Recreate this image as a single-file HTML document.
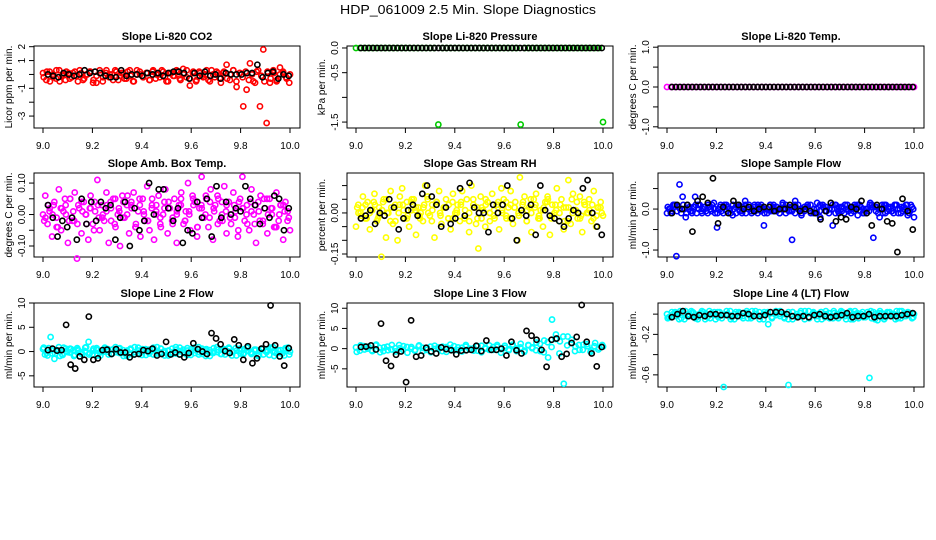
<!DOCTYPE html>
<html><head><meta charset="utf-8"><style>
html,body{margin:0;padding:0;background:#fff;}
svg{display:block;font-family:"Liberation Sans",sans-serif;}
</style></head><body>
<svg id="chart" width="936" height="540" viewBox="0 0 936 540" xmlns="http://www.w3.org/2000/svg">
<text x="468" y="14" text-anchor="middle" font-size="13" textLength="256" lengthAdjust="spacingAndGlyphs">HDP_061009  2.5 Min. Slope Diagnostics</text>
</svg>
<script>
function seq(a,b,n){const r=[];for(let i=0;i<n;i++)r.push(a+(b-a)*i/(n-1));return r;}
// ---- data ----
const co2Red=[0.1,-0.4,0.2,-0.2,0.3,-0.5,0.0,0.2,-0.3,0.1,-0.1,0.3,-0.4,0.0,0.2,-0.6,-0.6,0.1,-0.2,0.3,0.0,-0.4,0.2,-0.1,0.1,-0.3,0.3,-0.5,0.0,0.2,-0.2,0.1,-0.4,0.3,0.0,-0.2,0.2,-0.5,0.1,-0.1,0.3,-0.3,0.4,-0.2,-0.8,0.2,-0.4,0.1,-0.2,0.3,-0.5,0.0,0.2,-0.3,0.1,0.7,-0.4,0.3,-0.9,0.1,-2.3,-1.1,0.8,-0.5,0.2,-2.3,1.8,-3.5,-0.6,0.3,-0.5,0.5,0.1,-0.3,0.0];
const co2RedBand=[-0.2,0.2,-0.5,0.0,-0.3,0.3,-0.1,-0.4,0.1,-0.2,0.2,-0.5,0.1,-0.3,0.0,0.2,-0.4,-0.1,0.3,-0.5,0.1,-0.2,0.0,0.3,-0.4,0.1,-0.3,0.2,-0.1,-0.5,0.3,0.0,-0.2,0.1,-0.4,0.2,-0.3,0.0,0.3,-0.2,-0.5,0.1,-0.1,0.2,-0.4,0.0,0.3,-0.3,0.1,-0.5,0.2,-0.1,0.0,-0.4,0.3,-0.2,0.1,-0.6,0.2,-0.3,0.0,0.3,-0.5,0.1,-0.2,0.2,-0.4,0.0,-0.6,0.3,-0.1,-0.5,0.2,-0.3,0.1,-0.4,0.0,0.2,-0.2,-0.6];
const co2Blk=[0.0,-0.1,-0.2,0.1,0.0,-0.1,0.0,0.3,0.1,0.2,0.1,-0.1,-0.2,-0.2,0.3,-0.1,0.0,0.0,-0.1,0.1,0.0,0.1,-0.1,0.1,0.2,0.2,0.1,-0.3,0.1,-0.1,0.2,-0.1,0.0,-0.3,0.1,0.0,0.0,0.0,0.1,0.1,0.7,-0.2,0.1,0.2,-0.3,0.0,-0.1];
const presGreen=[0,0,0,0,0,0,0,0,0,0,0,0,0,0,0,0,0,0,0,0,-1.55,0,0,0,0,0,0,0,0,0,0,0,0,0,0,0,0,0,0,0,-1.55,0,0,0,0,0,0,0,0,0,0,0,0,0,0,0,0,0,0,0,-1.5];
const presBlk=[0,0,0,0,0,0,0,0,0,0,0,0,0,0,0,0,0,0,0,0,0,0,0,0,0,0,0,0,0,0,0,0,0,0,0,0,0,0,0,0,0,0,0,0,0,0,0,0,0,0,0,0,0,0,0,0,0,0,0,0];
const tempMag=[0,0,0,0,0,0,0,0,0,0,0,0,0,0,0,0,0,0,0,0,0,0,0,0,0,0,0,0,0,0,0,0,0,0,0,0,0,0,0,0,0,0,0,0,0,0,0,0,0,0,0,0,0,0,0,0,0,0,0,0,0];
const tempBlk=[0,0,0,0,0,0,0,0,0,0,0,0,0,0,0,0,0,0,0,0,0,0,0,0,0,0,0,0,0,0,0,0,0,0,0,0,0,0,0,0,0,0,0,0,0,0,0,0,0,0,0,0,0,0,0,0,0,0,0,0];
const ambPink=[0.0,0.06,-0.03,0.02,-0.07,0.04,-0.01,0.08,-0.05,0.01,0.03,-0.09,0.05,-0.02,0.07,-0.14,0.02,-0.06,0.04,0.0,-0.08,0.06,-0.03,0.01,0.11,-0.05,0.03,-0.02,0.07,-0.09,0.02,0.05,-0.04,0.0,-0.1,0.06,-0.01,0.03,-0.06,0.04,0.07,-0.03,0.01,-0.07,0.05,-0.02,0.09,-0.05,0.02,-0.08,0.03,0.06,-0.04,0.0,0.08,-0.06,0.02,-0.02,0.05,-0.09,0.03,0.07,-0.03,0.01,0.1,-0.05,0.06,0.04,-0.07,0.02,0.12,-0.01,0.05,-0.04,0.08,-0.08,0.03,0.06,-0.02,0.0,0.09,-0.06,0.04,-0.03,0.07,0.01,-0.07,0.05,0.12,-0.02,0.03,-0.05,0.08,0.0,-0.09,0.04,0.06,-0.03,0.02,-0.06,0.05,0.0,-0.04,0.07,-0.02,0.03,-0.08,0.04,0.01,-0.05];
const ambPink2=[-0.02,0.03,0.0,-0.04,0.02,0.05,-0.02,0.01,-0.03,0.04,0.0,0.02,-0.05,0.03,-0.01,0.01,0.04,-0.03,0.02,-0.01,0.0,0.03,-0.04,0.05,0.01,-0.02,0.03,0.0,-0.03,0.04,0.02,-0.01,0.01,0.05,-0.02,0.0,0.03,-0.04,0.02,0.06,0.04,0.01,0.05,-0.02,0.03,0.0,-0.01,0.04,0.02,-0.03,0.01,0.03,-0.02,0.05,0.0,0.02,-0.04,0.03,0.01,-0.01];
const ambBlk=[0.03,-0.01,-0.07,-0.02,-0.04,-0.01,-0.08,0.05,-0.03,0.04,-0.02,0.04,0.02,0.03,-0.08,-0.01,0.04,-0.1,0.02,-0.05,-0.02,0.1,0.0,0.08,0.08,0.02,-0.02,0.02,-0.09,-0.05,-0.06,0.04,-0.01,0.05,-0.07,0.09,-0.01,0.04,0.0,0.02,0.01,0.09,0.05,0.03,-0.03,0.02,-0.01,0.06,0.05,-0.05,0.02];
const rhYellow=[-0.05,0.03,0.0,0.06,-0.02,0.04,-0.06,0.01,0.07,-0.03,0.02,-0.16,0.05,-0.09,0.0,0.08,-0.04,0.03,-0.1,0.06,0.09,-0.02,0.04,-0.05,0.01,0.05,-0.08,0.02,0.0,-0.03,0.1,0.06,-0.01,0.03,-0.09,0.04,0.08,-0.04,0.02,0.05,-0.02,-0.06,0.07,0.0,0.03,-0.03,0.08,-0.02,0.05,-0.07,0.1,0.02,-0.04,-0.13,0.06,0.01,-0.05,0.04,0.0,0.07,-0.02,0.03,-0.06,0.09,0.05,-0.01,0.02,0.08,-0.04,0.04,-0.1,0.13,0.0,0.06,-0.03,0.02,-0.07,0.05,0.07,-0.02,0.01,-0.05,0.04,0.06,-0.08,0.03,0.0,0.09,-0.03,0.05,-0.06,0.02,0.12,-0.04,0.07,0.01,-0.02,0.06,-0.07,0.03,0.0,0.05,-0.03,0.08,-0.05,0.02,0.04,-0.01];
const rhYellow2=[0.02,-0.01,0.03,0.0,0.04,-0.02,0.01,0.05,-0.03,0.02,0.0,0.03,-0.02,0.04,0.01,-0.01,0.02,0.05,-0.03,0.03,0.0,0.02,-0.02,0.04,0.01,0.03,-0.01,0.0,0.05,-0.02,0.02,0.03,-0.03,0.01,0.04,0.0,-0.02,0.03,0.02,-0.01,0.04,0.01,0.0,0.03,-0.02,0.02,0.05,-0.01,0.01,0.03,-0.03,0.02,0.0,0.04,-0.01,0.03,0.01,-0.02,0.02,0.0];
const rhBlk=[-0.02,-0.01,0.01,-0.04,0.0,-0.01,0.05,0.02,-0.06,-0.02,0.01,0.03,-0.01,0.07,0.1,0.06,0.03,-0.05,0.02,-0.04,-0.02,0.09,-0.01,0.11,0.02,0.0,0.0,-0.07,0.03,0.0,0.03,0.1,-0.02,-0.1,0.01,-0.01,0.03,-0.08,0.1,0.01,-0.01,-0.02,-0.03,-0.05,-0.02,0.01,0.0,0.09,0.12,0.0,-0.05,-0.08];
const sfBlue=[-0.1,0.0,0.1,-1.15,0.6,0.3,-0.2,0.0,-0.1,0.3,0.1,-0.05,0.05,-0.1,0.0,0.15,-0.45,0.05,-0.1,0.1,0.0,-0.15,0.05,0.1,-0.1,0.2,0.0,-0.05,0.1,-0.1,0.05,-0.4,0.0,0.1,-0.05,0.05,-0.1,0.15,0.0,-0.05,-0.75,0.2,0.0,-0.15,0.05,0.1,-0.1,0.0,0.15,-0.2,0.05,-0.05,0.0,-0.4,0.1,-0.1,0.05,0.1,-0.05,0.0,0.1,-0.15,0.05,-0.1,0.0,0.15,-0.7,0.05,-0.2,-0.1,0.1,0.0,-0.05,0.1,-0.1,0.05,0.0,-0.15,0.1,-0.2];
const sfBlueBand=[0.05,-0.1,0.1,-0.05,0.0,0.1,-0.1,0.05,-0.05,0.1,0.0,-0.1,0.05,0.1,-0.05,0.0,-0.1,0.1,0.05,-0.05,0.0,0.1,-0.1,0.05,-0.05,0.1,0.0,-0.1,0.05,0.1,-0.05,0.0,-0.1,0.1,0.05,-0.05,0.0,0.1,-0.1,0.05,-0.05,0.1,0.0,-0.1,0.05,0.1,-0.05,0.0,-0.1,0.1,0.05,-0.05,0.0,0.1,-0.1,0.05,-0.05,0.1,0.0,-0.1,0.05,0.1,-0.05,0.0,-0.1,0.1,0.05,-0.05,0.0,0.1,-0.1,0.05,-0.05,0.1,0.0,-0.1,0.05,0.1,-0.05,0.0];
const sfBlk=[-0.1,0.1,0.0,0.1,-0.55,0.2,0.3,0.15,0.75,-0.35,0.05,-0.1,0.2,0.1,0.0,0.05,-0.05,0.0,0.05,0.05,-0.05,0.0,0.0,0.1,0.05,-0.05,0.0,-0.05,-0.1,-0.25,-0.05,0.15,-0.3,-0.2,-0.25,0.05,0.0,0.2,-0.1,-0.4,0.1,0.0,-0.3,-0.35,-1.05,0.25,-0.05,-0.5];
const l2Cyan=[0.5,-0.3,3.0,-1.5,0.2,-0.5,0.6,-0.2,0.3,0.7,-0.4,0.1,2.0,-0.6,0.4,-0.2,0.5,0.0,-0.5,0.3,0.6,-0.3,0.1,0.4,-0.6,0.2,-0.1,0.5,-0.4,0.3,0.0,0.6,-0.2,0.2,-0.5,0.4,0.1,-0.3,0.7,-0.1,0.3,-0.6,0.2,0.5,-0.2,0.0,0.4,-0.5,0.3,0.6,-0.1,0.2,-0.4,0.5,0.1,-0.3,0.4,0.0,-0.6,0.3,0.6,-0.2,0.2,-0.4,0.5,0.0];
const l2CyanBand=[0.8,-0.8,0.3,-0.4,0.9,-0.7,0.1,0.6,-0.9,0.4,-0.2,0.8,-0.6,0.2,0.7,-0.8,0.0,0.5,-0.5,0.9,-0.3,0.3,-0.9,0.6,-0.1,0.8,-0.7,0.2,0.4,-0.6,0.9,-0.2,0.1,-0.8,0.6,-0.4,0.8,0.0,-0.7,0.5,-0.3,0.9,-0.5,0.2,-0.9,0.7,-0.1,0.4,-0.6,0.8,0.0,-0.8,0.6,-0.3,0.9,-0.5,0.2,-0.7,0.5,-0.1,0.8,-0.9,0.3,-0.4,0.7,-0.6];
const l2Blk=[0.3,0.6,0.2,0.3,5.5,-2.7,-3.5,-1.0,-1.7,7.2,-1.7,-1.4,0.3,0.4,-0.5,0.5,-0.2,-0.2,-1.2,-0.6,-0.5,0.3,0.1,0.6,-0.8,-0.5,2.0,-0.6,-0.2,-0.6,-1.2,-0.3,1.7,0.5,0.0,-0.5,3.8,2.7,1.5,0.1,-0.3,2.5,1.3,-1.7,1.1,-2.4,-1.4,0.6,1.5,9.5,1.3,-1.0,-2.9,0.7];
const l3Cyan=[0.3,-0.5,0.6,0.0,-0.4,0.8,0.2,-0.6,0.5,-0.2,0.1,0.9,-0.3,0.4,0.0,-0.5,0.6,0.2,-0.3,0.5,-0.1,0.3,-0.6,0.4,0.0,0.6,-0.4,0.2,0.5,-0.2,0.1,-0.5,0.7,0.0,-0.3,0.4,0.9,-0.1,0.2,-0.4,0.6,0.0,1.2,-0.5,0.8,0.3,1.5,-0.6,2.0,-2.2,7.2,3.5,1.8,-8.7,3.0,2.2,0.5,-0.3,1.0,0.6,-0.4,1.4,0.2,0.5];
const l3CyanBand=[-0.8,0.8,-0.2,0.5,-0.6,1.0,-0.9,0.3,-0.4,0.9,-0.7,0.1,0.6,-1.0,0.4,-0.3,0.8,-0.6,0.2,-0.9,0.7,-0.1,0.5,-0.8,1.0,-0.4,0.3,-0.7,0.9,0.0,-0.5,0.6,-0.9,0.2,0.8,-0.3,0.5,-1.0,0.7,-0.2,1.0,-0.6,0.3,-0.8,0.9,0.1,-0.4,1.2,-0.9,1.6,0.4,2.4,-1.2,3.0,0.8,1.4,-0.6,0.9,-0.3,1.1,-0.8,0.6,-0.2,0.9];
const l3Blk=[0.4,0.5,0.8,-0.2,6.2,-3.0,-4.3,-1.5,-0.7,-8.3,7.0,-2.0,-1.7,0.2,-0.7,-1.2,0.3,-0.1,-0.4,-1.4,-0.5,-0.4,-0.3,0.7,-0.6,2.0,-0.3,-0.3,0.0,-1.7,1.7,-0.4,-1.2,4.4,3.2,2.2,-0.3,-4.5,2.2,2.5,-2.0,-1.3,1.4,2.9,10.8,1.7,-1.2,-4.4,0.4];
const l4Cyan=[0.0,-0.03,0.02,-0.05,0.01,-0.02,0.03,-0.04,0.0,0.02,-0.03,0.01,-0.05,0.02,-0.72,0.0,-0.03,0.02,-0.02,0.01,-0.04,0.03,0.0,-0.02,0.02,-0.1,-0.03,0.01,0.0,-0.04,-0.7,0.02,-0.02,0.01,-0.05,0.03,0.0,-0.02,0.02,-0.03,0.01,-0.04,0.0,0.03,-0.02,0.02,-0.05,0.01,0.0,-0.03,-0.63,0.02,-0.06,0.01,-0.03,0.02,0.0,-0.04,0.03,-0.02,0.01,0.0];
const l4CyanBand=[-0.04,0.02,-0.02,0.03,-0.05,0.0,0.02,-0.03,0.01,-0.05,0.03,-0.01,0.02,-0.04,0.0,0.03,-0.05,0.01,-0.02,0.03,-0.04,0.0,0.02,-0.05,0.01,-0.03,0.03,-0.02,0.0,-0.05,0.02,-0.03,0.03,-0.01,-0.04,0.02,0.0,-0.05,0.03,-0.02,0.01,-0.04,0.02,0.0,-0.05,0.03,-0.01,-0.03,0.02,-0.04,0.0,0.03,-0.05,0.01,-0.02,0.03,-0.04,0.01,0.0,-0.03];
const l4Blk=[-0.03,0.0,0.03,-0.02,-0.03,-0.01,-0.02,0.0,0.0,-0.01,-0.01,-0.02,-0.02,0.01,0.0,-0.02,-0.02,-0.01,0.02,0.02,0.02,0.0,-0.02,-0.03,-0.02,-0.03,-0.01,0.0,-0.02,-0.03,-0.02,-0.01,0.01,-0.03,-0.02,-0.02,0.0,-0.03,-0.02,-0.02,-0.02,-0.02,-0.01,0.0,0.01];
const xTicks=[9.0,9.2,9.4,9.6,9.8,10.0];
const xTickLabels=["9.0","9.2","9.4","9.6","9.8","10.0"];
const panelTitles=["Slope Li-820 CO2","Slope Li-820 Pressure","Slope Li-820 Temp.","Slope Amb. Box Temp.","Slope Gas Stream RH","Slope Sample Flow","Slope Line 2 Flow","Slope Line 3 Flow","Slope Line 4 (LT) Flow"];
const yAxisTitles=["Licor ppm per min.","kPa per min.","degrees C per min.","degrees C per min.","percent per min.","ml/min per min.","ml/min per min.","ml/min per min.","ml/min per min."];
const yTicks=[[2,1,0,-1,-2,-3],[0,-0.5,-1,-1.5],[1,0.5,0,-0.5,-1],[0.1,0.05,0,-0.05,-0.1],[0.1,0.05,0,-0.05,-0.1,-0.15],[0.5,0,-0.5,-1],[10,5,0,-5],[10,5,0,-5],[0,-0.2,-0.4,-0.6]];
const yTickLabels=[["2","1","","-1","","-3"],["0.0","-0.5","","-1.5"],["1.0","","0.0","","-1.0"],["0.10","","0.00","","-0.10"],["","","0.00","","","-0.15"],["","0.0","","-1.0"],["10","5","0","-5"],["10","5","0","-5"],["","-0.2","","-0.6"]];
const yDomains=[[-3.86,2.05],[-1.62,0.04],[-1.03,1.03],[-0.135,0.132],[-0.161,0.146],[-1.17,0.88],[-7.3,10.0],[-9.5,11.3],[-0.72,0.11]];
// ---- layout ----
const colLeft=[34,347,658], rowTop=[46,173,303], rowBot=[128,257,387], W=266;
const svg=document.getElementById('chart');
const NS="http://www.w3.org/2000/svg";
function mk(tag,attrs,parent){const e=document.createElementNS(NS,tag);for(const k in attrs)e.setAttribute(k,attrs[k]);(parent||svg).appendChild(e);return e;}
const panels=[];
for(let p=0;p<9;p++){
  const L=colLeft[p%3],T=rowTop[Math.floor(p/3)],B=rowBot[Math.floor(p/3)];
  const d=yDomains[p];
  const sx=v=>L+9+(v-9)*(W-19);
  const sy=v=>B-(v-d[0])/(d[1]-d[0])*(B-T);
  const g=mk('g',{});
  
  
  const box=mk('rect',{x:L,y:T,width:W,height:B-T,fill:'none',stroke:'#000','stroke-width':1},g);
  
  
  const t=mk('text',{x:L+W/2,y:T-6,'text-anchor':'middle','font-size':11,'font-weight':'bold'},g);
  
  
  t.textContent=panelTitles[p];
  const xa=mk('g',{},g);
  
  
  mk('line',{x1:sx(9),x2:sx(10),y1:B,y2:B,stroke:'#000'},xa);
  xTicks.forEach((v,i)=>{
    mk('line',{x1:sx(v),x2:sx(v),y1:B,y2:B+5,stroke:'#000'},xa);
    const tl=mk('text',{x:sx(v),y:B+21,'text-anchor':'middle','font-size':10},xa);
    
    
    tl.textContent=xTickLabels[i];
  });
  const ya=mk('g',{},g);
  
  
  const yt=yTicks[p];
  mk('line',{x1:L,x2:L,y1:sy(yt[0]),y2:sy(yt[yt.length-1]),stroke:'#000'},ya);
  yt.forEach((v,i)=>{
    const y=sy(v);
    mk('line',{x1:L-5,x2:L,y1:y,y2:y,stroke:'#000'},ya);
    const lab=yTickLabels[p][i];
    if(lab){
      const tl=mk('text',{x:L-9,y:y,'text-anchor':'middle','font-size':10,transform:`rotate(-90 ${L-9} ${y})`},ya);
      
      
      tl.textContent=lab;
    }
  });
  const at=mk('text',{x:L-22,y:(T+B)/2,'text-anchor':'middle','font-size':10,transform:`rotate(-90 ${L-22} ${(T+B)/2})`},g);
  
  
  at.textContent=yAxisTitles[p];
  panels.push({g,sx,sy});
}
function series(p,vals,x0,x1,color,name){
  const P=panels[p];
  const xs=seq(x0,x1,vals.length);
  const g=mk('g',{fill:'none',stroke:color,'stroke-width':1.6},P.g);
  
  
  vals.forEach((v,i)=>{
    const c=mk('circle',{cx:P.sx(xs[i]),cy:P.sy(v),r:2.6},g);
    
    
  });
}
series(0,co2RedBand,9.003,9.997,'#ff0000','co2-band-series');
series(0,co2Red,9,10,'#ff0000','co2-series');
series(0,co2Blk,9.02,9.995,'#000','co2-black-series');
series(1,presGreen,9,10,'#00cc00','pressure-series');
series(1,presBlk,9.02,9.995,'#000','pressure-black-series');
series(2,tempMag,9,10,'#ff00ff','temp-series');
series(2,tempBlk,9.02,9.995,'#000','temp-black-series');
series(3,ambPink,9,10,'#ff00ff','amb-series');
series(3,ambPink2,9.005,9.995,'#ff00ff','amb-series-b');
series(3,ambPink2.slice().reverse(),9.01,9.99,'#ff00ff','amb-series-c');
series(3,ambBlk,9.02,9.995,'#000','amb-black-series');
series(4,rhYellow,9,10,'#ffff00','rh-series');
series(4,rhYellow2,9.005,9.995,'#ffff00','rh-series-b');
series(4,rhYellow2.slice().reverse(),9.01,9.99,'#ffff00','rh-series-c');
series(4,rhBlk,9.02,9.995,'#000','rh-black-series');
series(5,sfBlueBand,9.003,9.997,'#0000ff','sample-flow-band-series');
series(5,sfBlueBand.slice().reverse(),9.008,9.992,'#0000ff','sample-flow-band-series-b');
series(5,sfBlue,9,10,'#0000ff','sample-flow-series');
series(5,sfBlk,9.02,9.995,'#000','sample-flow-black-series');
series(6,l2CyanBand,9.003,9.997,'#00ffff','line2-band-series');
series(6,l2CyanBand.slice().reverse(),9.008,9.992,'#00ffff','line2-band-series-b');
series(6,l2Cyan,9,10,'#00ffff','line2-series');
series(6,l2Blk,9.02,9.995,'#000','line2-black-series');
series(7,l3CyanBand,9.003,9.997,'#00ffff','line3-band-series');
series(7,l3Cyan,9,10,'#00ffff','line3-series');
series(7,l3Blk,9.02,9.995,'#000','line3-black-series');
series(8,l4CyanBand,9.003,9.997,'#00ffff','line4-band-series');
series(8,l4CyanBand.slice().reverse(),9.008,9.992,'#00ffff','line4-band-series-b');
series(8,l4Cyan,9,10,'#00ffff','line4-series');
series(8,l4Blk,9.02,9.995,'#000','line4-black-series');
</script>
</body></html>
